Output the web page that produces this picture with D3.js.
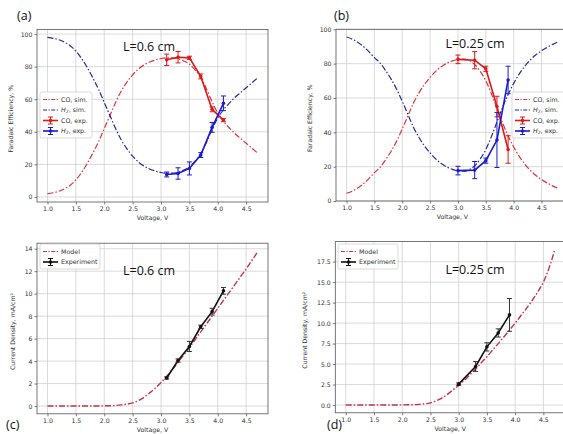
<!DOCTYPE html>
<html lang="en">
<head>
  <meta charset="utf-8">
  <script src="https://d3js.org/d3.v7.min.js"></script>
  <style>
    body { margin: 0; background: #fff; }
    text { font-family: "DejaVu Sans", sans-serif; }
  </style>
</head>
<body>
  <div id="my_dataviz"></div>
  <script>

    // ---- data ----
    const simVoltA = [1.0,1.1,1.2,1.3,1.4,1.5,1.6,1.7,1.8,1.9,2.0,2.1,2.2,2.3,2.4,2.5,2.6,2.7,2.8,2.9,
                      3.0,3.1,3.2,3.3,3.4,3.5,3.6,3.7,3.8,3.9,4.0,4.1,4.2,4.3,4.4,4.5,4.6,4.7];
    const coSimA = [2,2.6,3.5,5,7.2,10.5,15,20.5,27,34,42,50,58,65,70.5,75,78.5,81,82.8,84.1,
                    85,85.4,85.4,84.8,83.5,81.5,78,73.5,66.5,58.5,51.5,46.5,42.5,39,36,33,30,27];
    const h2SimA = [98,97.4,96.5,95,92.8,89.5,85,79.5,73,66,58,50,42,35,29.5,25,21.5,19,17.2,15.9,
                    15,14.6,14.6,15.2,16.5,18.5,22,26.5,33.5,41.5,48.5,53.5,57.5,61,64,67,70,73];
    const expVoltA = [3.1,3.3,3.5,3.7,3.9,4.1];
    const coExpA = [84.2,85.8,85.4,74.0,53.8,47.2];
    const coErrA = [3.5,3.5,1.0,1.5,1.5,1.0];
    const h2ExpA = [13.8,14.4,17.5,25.7,42.7,57.5];
    const h2ErrA = [1.5,3.5,4.0,1.5,3.0,4.5];

    const simVoltB = [1.0,1.1,1.2,1.3,1.4,1.5,1.6,1.7,1.8,1.9,2.0,2.1,2.2,2.3,2.4,2.5,2.6,2.7,2.8,2.9,
                      3.0,3.1,3.2,3.3,3.4,3.5,3.6,3.7,3.8,3.9,4.0,4.1,4.2,4.3,4.4,4.5,4.6,4.7,4.8];
    const coSimB = [4.5,5.7,7.5,10,13,16.5,19.5,24,29,35,42,49.5,57,63,68,72,75.5,78.2,80.2,81.6,
                    82.4,82.6,81.8,79.5,75.5,70,62.5,54,45.5,38,31.5,26,21.5,17.8,14.8,12.5,10.5,8.8,7.3];
    const h2SimB = [95.5,94.3,92.5,90,87,83.5,80.5,76,71,65,58,50.5,43,37,32,28,24.5,21.8,19.8,18.4,
                    17.6,17.4,18.2,20.5,24.5,30,37.5,46,54.5,62,68.5,74,78.5,82.2,85.2,87.5,89.5,91.2,92.7];
    const expVoltB = [3.0,3.3,3.5,3.7,3.9];
    const coExpB = [82.5,82,77,55,30];
    const coErrB = [2.5,5,1.5,6,8];
    const h2ExpB = [17.7,18,23.5,35.5,70.5];
    const h2ErrB = [2.5,5,1.5,16,8];

    const modelVolt = [1.0,1.1,1.2,1.3,1.4,1.5,1.6,1.7,1.8,1.9,2.0,2.1,2.2,2.3,2.4,2.5,2.6,2.7,2.8,2.9,
                       3.0,3.1,3.2,3.3,3.4,3.5,3.6,3.7,3.8,3.9,4.0,4.1,4.2,4.3,4.4,4.5,4.6,4.7];
    const modelC = [0,0,0,0,0,0,0,0,0.01,0.01,0.02,0.03,0.05,0.1,0.17,0.28,0.48,0.78,1.17,1.6,
                    2.1,2.65,3.25,3.9,4.55,5.2,5.9,6.6,7.3,8.0,8.7,9.4,10.1,10.8,11.5,12.2,12.95,13.7];
    const modelD = [0,0,0,0,0,0,0,0,0.01,0.01,0.02,0.03,0.04,0.08,0.15,0.27,0.5,0.85,1.3,1.85,
                    2.4,3.0,3.7,4.4,5.15,5.9,6.7,7.5,8.3,9.15,10.0,10.9,11.8,12.75,13.8,15.0,16.7,18.9];
    const expVoltC = [3.1,3.3,3.5,3.7,3.9,4.1];
    const jExpC = [2.5,4.05,5.3,7.05,8.4,10.25];
    const jErrC = [0.1,0.15,0.45,0.15,0.3,0.3];
    const expVoltD = [3.0,3.3,3.5,3.7,3.9];
    const jExpD = [2.55,4.7,7.1,8.8,11.0];
    const jErrD = [0.15,0.6,0.5,0.5,2.0];

    const voltTicks = [1.0,1.5,2.0,2.5,3.0,3.5,4.0,4.5];
    const feTicks = [0,20,40,60,80,100];
    const jTicksC = [0,2,4,6,8,10,12,14];
    const jTicksD = [0,2.5,5,7.5,10,12.5,15,17.5];

    const red = "#e01818", blue = "#1a1ad0";
    const redSim = "#d8363e", blueSim = "#28289a", modelCol = "#c2344a";
    const dashDot = "6,2,1.5,2";

    const svg = d3.select("#my_dataviz")
      .append("svg")
        .attr("width", 563)
        .attr("height", 434);

    function drawPanel(p) {
      const x = d3.scaleLinear().domain(p.xDomain).range(p.xRange);
      const y = d3.scaleLinear().domain(p.yDomain).range(p.yRange);
      const g = svg.append("g");

      // grid
      g.append("g").selectAll("line").data(voltTicks).join("line")
        .attr("x1", d => x(d)).attr("x2", d => x(d))
        .attr("y1", p.yRange[0]).attr("y2", p.yRange[1])
        .attr("stroke", "#d0d0d0").attr("stroke-width", 0.8);
      g.append("g").selectAll("line").data(p.yTicks).join("line")
        .attr("x1", p.xRange[0]).attr("x2", p.xRange[1])
        .attr("y1", d => y(d)).attr("y2", d => y(d))
        .attr("stroke", "#d0d0d0").attr("stroke-width", 0.8);

      // axes
      const ax = g.append("g")
        .attr("transform", `translate(0,${p.yRange[0]})`)
        .call(d3.axisBottom(x).tickValues(voltTicks).tickFormat(d3.format(".1f")).tickSize(2.5).tickPadding(2));
      const ay = g.append("g")
        .attr("transform", `translate(${p.xRange[0]},0)`)
        .call(d3.axisLeft(y).tickValues(p.yTicks).tickFormat(p.yFormat).tickSize(2.5).tickPadding(2));
      [ax, ay].forEach(a => {
        a.select(".domain").remove();
        a.selectAll("line").attr("stroke", "#444").attr("stroke-width", 0.7);
        a.selectAll("text").attr("fill", "#333").style("font-size", "6.2px");
      });

      // frame
      g.append("rect")
        .attr("x", p.xRange[0]).attr("y", p.yRange[1])
        .attr("width", p.xRange[1] - p.xRange[0])
        .attr("height", p.yRange[0] - p.yRange[1])
        .attr("fill", "none").attr("stroke", "#555").attr("stroke-width", 0.8);

      // sim / model lines
      p.lines.forEach(l => {
        const pts = l.vx.map((v, i) => [v, l.vy[i]]);
        g.append("path")
          .attr("d", d3.line().x(d => x(d[0])).y(d => y(d[1])).curve(d3.curveMonotoneX)(pts))
          .attr("fill", "none").attr("stroke", l.color)
          .attr("stroke-width", l.width || 1.2).attr("stroke-dasharray", dashDot);
      });

      // experimental series with error bars
      p.exps.forEach(s => {
        const pts = s.vx.map((v, i) => ({v: v, m: s.vy[i], e: s.err[i]}));
        g.append("path")
          .attr("d", d3.line().x(d => x(d.v)).y(d => y(d.m))(pts))
          .attr("fill", "none").attr("stroke", s.color).attr("stroke-width", 1.6);
        const eb = g.append("g").selectAll("g").data(pts).join("g")
          .attr("stroke", s.ecolor || s.color).attr("stroke-width", 1);
        eb.append("line")
          .attr("x1", d => x(d.v)).attr("x2", d => x(d.v))
          .attr("y1", d => y(d.m - d.e)).attr("y2", d => y(d.m + d.e));
        eb.append("line")
          .attr("x1", d => x(d.v) - 2.5).attr("x2", d => x(d.v) + 2.5)
          .attr("y1", d => y(d.m - d.e)).attr("y2", d => y(d.m - d.e));
        eb.append("line")
          .attr("x1", d => x(d.v) - 2.5).attr("x2", d => x(d.v) + 2.5)
          .attr("y1", d => y(d.m + d.e)).attr("y2", d => y(d.m + d.e));
        g.append("g").selectAll("circle").data(pts).join("circle")
          .attr("cx", d => x(d.v)).attr("cy", d => y(d.m)).attr("r", 1.8)
          .attr("fill", s.color);
      });

      // axis titles
      g.append("text")
        .attr("x", (p.xRange[0] + Math.min(p.xRange[1], 569)) / 2)
        .attr("y", p.yRange[0] + 18)
        .attr("text-anchor", "middle").attr("fill", "#333")
        .style("font-size", "6.2px")
        .text("Voltage, V");
      g.append("text")
        .attr("transform", `translate(${p.yLabelX},${(p.yRange[0] + p.yRange[1]) / 2 + 3}) rotate(-90)`)
        .attr("text-anchor", "middle").attr("fill", "#333")
        .style("font-size", "6.2px")
        .text(p.yLabel);

      // annotation and panel letter
      g.append("text")
        .attr("x", p.note[0]).attr("y", p.note[1])
        .attr("text-anchor", "middle")
        .style("font-family", "'Open Sans', sans-serif")
        .style("font-size", "12.5px").attr("fill", "#111")
        .text(p.noteText);
      g.append("text")
        .attr("x", p.letter[0]).attr("y", p.letter[1])
        .style("font-family", "'Open Sans', sans-serif")
        .style("font-size", "12.5px").attr("fill", "#111")
        .text(p.letterText);

      // legend
      const lg = g.append("g").attr("transform", `translate(${p.legend.x},${p.legend.y})`);
      lg.append("rect")
        .attr("width", p.legend.w).attr("height", p.legend.items.length * 10.5 + 4)
        .attr("rx", 2).attr("fill", "#fff").attr("fill-opacity", 0.85)
        .attr("stroke", "#ccc").attr("stroke-width", 0.7);
      p.legend.items.forEach((it, i) => {
        const cy = 7.5 + i * 10.5;
        const row = lg.append("g");
        row.append("line")
          .attr("x1", 3).attr("x2", 18).attr("y1", cy).attr("y2", cy)
          .attr("stroke", it.color).attr("stroke-width", it.dash ? 1.2 : 1.6)
          .attr("stroke-dasharray", it.dash ? "4,1.5,1.2,1.5" : null);
        if (!it.dash) {
          row.append("line").attr("x1", 10.5).attr("x2", 10.5).attr("y1", cy - 3.5).attr("y2", cy + 3.5)
            .attr("stroke", it.color).attr("stroke-width", 1);
          row.append("line").attr("x1", 8).attr("x2", 13).attr("y1", cy - 3.5).attr("y2", cy - 3.5)
            .attr("stroke", it.color).attr("stroke-width", 1);
          row.append("line").attr("x1", 8).attr("x2", 13).attr("y1", cy + 3.5).attr("y2", cy + 3.5)
            .attr("stroke", it.color).attr("stroke-width", 1);
          row.append("circle").attr("cx", 10.5).attr("cy", cy).attr("r", 1.8).attr("fill", it.color);
        }
        const t = row.append("text").attr("x", 21).attr("y", cy + 2.2)
          .attr("fill", "#333").style("font-size", "6.3px");
        if (it.h2) {
          t.append("tspan").style("font-style", "italic").text("H");
          t.append("tspan").attr("dy", 1.2).style("font-size", "4.5px").text("2");
          t.append("tspan").attr("dy", -1.2).text(it.label);
        } else {
          t.text(it.label);
        }
      });
    }

    const feLegend = [
      {label: "CO, sim.", color: redSim, dash: true},
      {label: ", sim.", color: blueSim, dash: true, h2: true},
      {label: "CO, exp.", color: red},
      {label: ", exp.", color: blue, h2: true}
    ];
    const jLegend = [
      {label: "Model", color: modelCol, dash: true},
      {label: "Experiment", color: "#111"}
    ];

    // (a)
    drawPanel({
      xDomain: [0.815, 4.885], xRange: [37, 268],
      yDomain: [-3.1, 102.8], yRange: [202, 29.5],
      yTicks: feTicks, yFormat: d3.format("d"),
      yLabel: "Faradaic Efficiency, %", yLabelX: 13,
      lines: [{vx: simVoltA, vy: coSimA, color: redSim}, {vx: simVoltA, vy: h2SimA, color: blueSim}],
      exps: [{vx: expVoltA, vy: coExpA, err: coErrA, color: red},
             {vx: expVoltA, vy: h2ExpA, err: h2ErrA, color: blue}],
      note: [149, 51], noteText: "L=0.6 cm",
      letter: [17, 20], letterText: "(a)",
      legend: {x: 40, y: 92, w: 52, items: feLegend}
    });

    // (b)
    drawPanel({
      xDomain: [0.81, 4.99], xRange: [336, 568.8],
      yDomain: [0, 100], yRange: [201, 29.3],
      yTicks: feTicks, yFormat: d3.format("d"),
      yLabel: "Faradaic Efficiency, %", yLabelX: 312,
      lines: [{vx: simVoltB, vy: coSimB, color: redSim}, {vx: simVoltB, vy: h2SimB, color: blueSim}],
      exps: [{vx: expVoltB, vy: coExpB, err: coErrB, color: red},
             {vx: expVoltB, vy: h2ExpB, err: h2ErrB, color: blue}],
      note: [475, 48], noteText: "L=0.25 cm",
      letter: [334, 20], letterText: "(b)",
      legend: {x: 512, y: 92, w: 54, items: feLegend}
    });

    // (c)
    drawPanel({
      xDomain: [0.815, 4.885], xRange: [37, 268],
      yDomain: [-0.69, 14.49], yRange: [413.8, 243.2],
      yTicks: jTicksC, yFormat: d3.format("d"),
      yLabel: "Current Density, mA/cm²", yLabelX: 15,
      lines: [{vx: modelVolt, vy: modelC, color: modelCol, width: 1.4}],
      exps: [{vx: expVoltC, vy: jExpC, err: jErrC, color: "#111", ecolor: "#333"}],
      note: [149, 275], noteText: "L=0.6 cm",
      letter: [6, 429], letterText: "(c)",
      legend: {x: 40, y: 244, w: 60, items: jLegend}
    });

    // (d)
    drawPanel({
      xDomain: [0.815, 4.885], xRange: [335.3, 565.1],
      yDomain: [-0.95, 19.95], yRange: [412.8, 241.6],
      yTicks: jTicksD, yFormat: d3.format(".1f"),
      yLabel: "Current Density, mA/cm²", yLabelX: 307,
      lines: [{vx: modelVolt, vy: modelD, color: modelCol, width: 1.4}],
      exps: [{vx: expVoltD, vy: jExpD, err: jErrD, color: "#111", ecolor: "#333"}],
      note: [475, 274], noteText: "L=0.25 cm",
      letter: [327, 429], letterText: "(d)",
      legend: {x: 338, y: 244, w: 60, items: jLegend}
    });
  </script>
</body>
</html>
